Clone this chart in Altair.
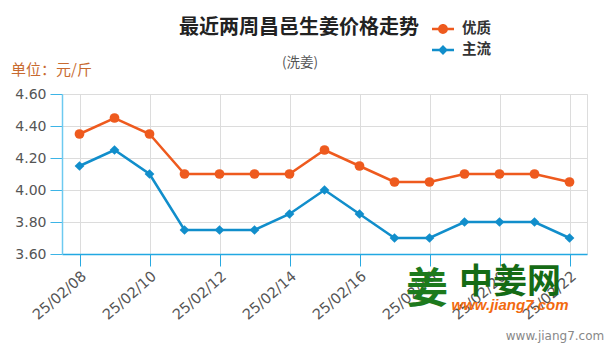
import altair as alt
import pandas as pd

dates = ["25/02/08", "25/02/09", "25/02/10", "25/02/11", "25/02/12", "25/02/13",
         "25/02/14", "25/02/15", "25/02/16", "25/02/17", "25/02/18", "25/02/19",
         "25/02/20", "25/02/21", "25/02/22"]
premium = [4.35, 4.45, 4.35, 4.10, 4.10, 4.10, 4.10, 4.25, 4.15, 4.05, 4.05, 4.10, 4.10, 4.10, 4.05]
mainstream = [4.15, 4.25, 4.10, 3.75, 3.75, 3.75, 3.85, 4.00, 3.85, 3.70, 3.70, 3.80, 3.80, 3.80, 3.70]
series_names = ["优质", "主流"]
y_ticks = [3.6, 3.8, 4.0, 4.2, 4.4, 4.6]

ORANGE = "#ee5a1e"
BLUE = "#118ecb"
CJK = "Noto Sans CJK SC"

rows = []
for name, vals in zip(series_names, [premium, mainstream]):
    for d, v in zip(dates, vals):
        rows.append({"date": d, "price": v, "series": name})
df = pd.DataFrame(rows)

x_enc = alt.X("date:O", sort=dates,
              scale=alt.Scale(type="point", padding=0.5),
              axis=alt.Axis(values=dates[::2], title=None, labelAngle=-41,
                            labelFont="DejaVu Sans", labelFontSize=14.5, labelColor="#555",
                            labelPadding=3,
                            tickColor="#29a9e0", tickSize=12, domainColor="#22a8e2",
                            domainWidth=1.5, grid=True, gridColor="#dcdcdc"))
y_enc = alt.Y("price:Q",
              scale=alt.Scale(domain=[3.6, 4.6], nice=False, zero=False),
              axis=alt.Axis(values=y_ticks, format=".2f", title=None,
                            labelFont="DejaVu Sans", labelFontSize=14, labelColor="#555",
                            labelPadding=4, tickColor="#3cb4e6", tickSize=12,
                            domainColor="#6dcaf0", domainWidth=1.5,
                            grid=True, gridColor="#dcdcdc"))

circ_path = "M-1,-0.11L1,-0.11L1,0.11L-1,0.11Z M-0.45,0A0.45,0.45,0,1,1,0.45,0A0.45,0.45,0,1,1,-0.45,0Z"
diam_path = "M-1,-0.11L1,-0.11L1,0.11L-1,0.11Z M0,-0.45L0.45,0L0,0.45L-0.45,0Z"

legend = alt.Legend(
    title=None, orient="none", legendX=370, legendY=-76, padding=0,
    symbolSize=484, symbolOpacity=1, symbolStrokeWidth=0,
    labelFont=CJK, labelFontSize=14.5, labelFontWeight="bold", labelColor="#333",
    labelOffset=8, rowPadding=3)

color_scale = alt.Scale(domain=series_names, range=[ORANGE, BLUE])

lines = alt.Chart(df).mark_line(strokeWidth=2.5).encode(
    x=x_enc, y=y_enc, color=alt.Color("series:N", scale=color_scale, legend=None))
points = alt.Chart(df).mark_point(filled=True, opacity=1, size=95).encode(
    x=x_enc, y=y_enc,
    color=alt.Color("series:N", scale=color_scale, legend=None),
    shape=alt.Shape("series:N", scale=alt.Scale(domain=series_names, range=["circle", "diamond"]), legend=None),
)
legend_layer = alt.Chart(df).transform_filter("false").mark_point(filled=True).encode(
    x=x_enc, y=y_enc,
    color=alt.Color("series:N", scale=color_scale, legend=legend),
    shape=alt.Shape("series:N", scale=alt.Scale(domain=series_names, range=[circ_path, diam_path]),
                    legend=legend),
)


def label(text, x, y, **kw):
    return alt.Chart(alt.Data(values=[{"t": text}])).mark_text(**kw).encode(
        text="t:N", x=alt.value(x), y=alt.value(y))


title = label("最近两周昌邑生姜价格走势", 237, -66, font=CJK, fontSize=20, fontWeight="bold",
              color="#222", align="center", baseline="middle")
subtitle = label("(洗姜)", 238, -31, font=CJK, fontSize=13.5, color="#555",
                 align="center", baseline="middle")
unit = label("单位：元/斤", -51, -24, font=CJK, fontSize=15, color="#c86a30",
             align="left", baseline="middle")
logo1 = label("姜", 365, 196, font=CJK, fontSize=42, fontWeight="bold", color="#1d7a1d",
              align="center", baseline="middle")
logo2 = label("中姜网", 448, 189, font=CJK, fontSize=34, fontWeight="bold", color="#156b15",
              align="center", baseline="middle")
logo3 = label("www.jiang7.com", 448, 211, font="Liberation Sans", fontSize=15, fontWeight="bold",
              fontStyle="italic", color="#f26a10", align="center", baseline="middle")
footer = label("www.jiang7.com", 493, 242, font="DejaVu Sans", fontSize=12, color="#888",
               align="center", baseline="middle")

chart = alt.layer(lines, points, legend_layer, title, subtitle, unit, logo1, logo2, logo3, footer).resolve_scale(
    shape="independent", color="independent"
).properties(
    width=525, height=160,
    autosize=alt.AutoSizeParams(type="none"),
    padding={"left": 62, "top": 94, "right": 21, "bottom": 100},
).configure_view(strokeWidth=0).configure(background="white")

chart.save("out.html", embed_options={"renderer": "svg", "actions": False})
